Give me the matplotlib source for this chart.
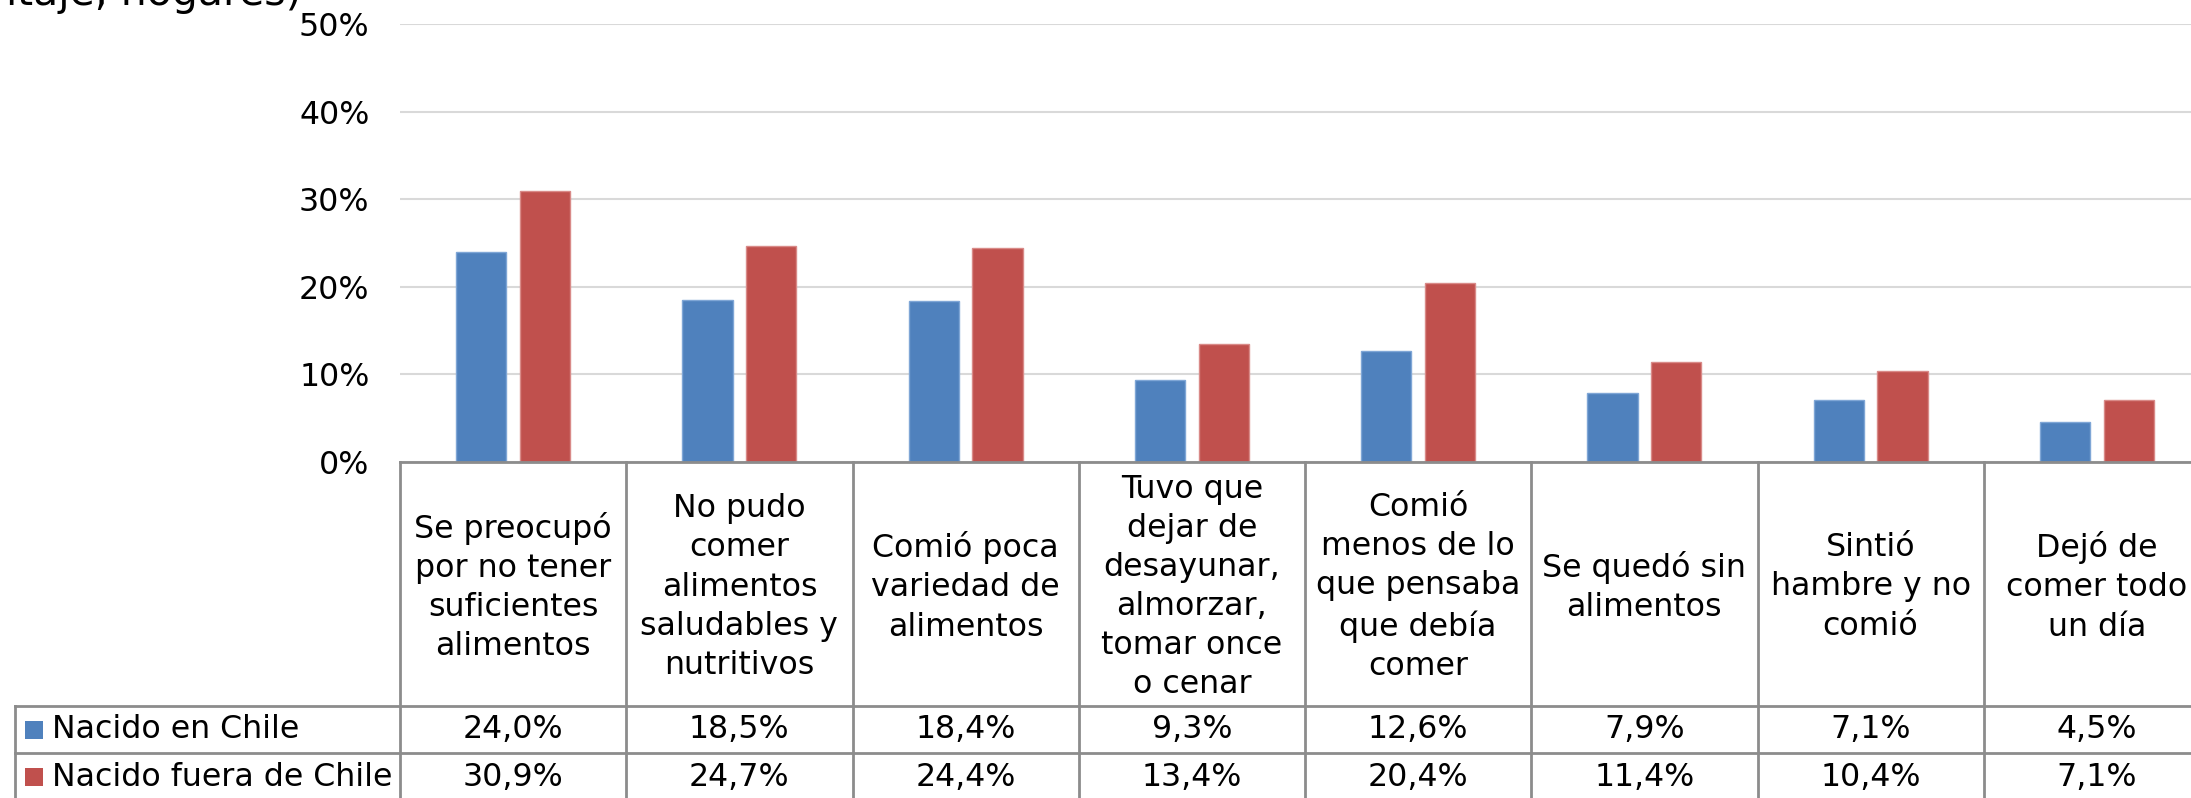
import matplotlib
matplotlib.use("Agg")
import matplotlib.pyplot as plt
from matplotlib.lines import Line2D
from matplotlib.patches import Rectangle
from matplotlib.transforms import blended_transform_factory
import numpy as np

plt.rcParams['font.family'] = ['DejaVu Sans']

categories = [
    "Se preocupó\npor no tener\nsuficientes\nalimentos",
    "No pudo\ncomer\nalimentos\nsaludables y\nnutritivos",
    "Comió poca\nvariedad de\nalimentos",
    "Tuvo que\ndejar de\ndesayunar,\nalmorzar,\ntomar once\no cenar",
    "Comió\nmenos de lo\nque pensaba\nque debía\ncomer",
    "Se quedó sin\nalimentos",
    "Sintió\nhambre y no\ncomió",
    "Dejó de\ncomer todo\nun día",
]
series_names = ["Nacido en Chile", "Nacido fuera de Chile"]
nacido_chile = [24.0, 18.5, 18.4, 9.3, 12.6, 7.9, 7.1, 4.5]
nacido_fuera = [30.9, 24.7, 24.4, 13.4, 20.4, 11.4, 10.4, 7.1]
yticks = [0, 10, 20, 30, 40, 50]
title_text = "(porcentaje, hogares)"

colors = ["#4F81BD", "#C0504D"]
edge_colors = ["#7FA6D6", "#D98A88"]
line_gray = "#8C8C8C"
FS = 22.8

W, H = 2191, 798
fig = plt.figure(figsize=(W / 100, H / 100), dpi=100)
fx = lambda px: px / W
fy = lambda py: 1 - py / H

x0, x1 = 400, 2210
y_top, y_zero = 24.2, 461.7
ax = fig.add_axes([fx(x0), fy(y_zero), fx(x1) - fx(x0), fy(y_top) - fy(y_zero)])

n = len(categories)
x = np.arange(n)
bw = 0.222
off = 0.141
for vals, c, ec, sgn in [(nacido_chile, colors[0], edge_colors[0], -1),
                         (nacido_fuera, colors[1], edge_colors[1], 1)]:
    ax.bar(x + sgn * off, vals, width=bw, color=c, edgecolor=ec, linewidth=1, zorder=3)

ax.set_xlim(-0.5, n - 0.5)
ax.set_ylim(0, 50)
ax.set_yticks(yticks)
ax.set_yticklabels([f"{t}%" for t in yticks], fontsize=FS)
ax.tick_params(axis='y', length=0, pad=22)
ax.set_xticks([])
ax.yaxis.grid(True, color="#D9D9D9", linewidth=1.5, zorder=0)
ax.set_axisbelow(True)
for s in ["top", "right", "left"]:
    ax.spines[s].set_visible(False)
ax.spines["bottom"].set_color(line_gray)
ax.spines["bottom"].set_linewidth(2)
ax.spines["bottom"].set_zorder(5)

# Data table
bt = blended_transform_factory(ax.transData, fig.transFigure)
row1_top, row2_top, bottom = 705.7, 753.3, 800
leg_left = 14.7

def hline(xa, xb, py):
    fig.add_artist(Line2D([fx(xa), fx(xb)], [fy(py), fy(py)], transform=fig.transFigure,
                          color=line_gray, linewidth=2))

for i in range(n + 1):
    fig.add_artist(Line2D([i - 0.5, i - 0.5], [fy(y_zero), fy(bottom)], transform=bt,
                          color=line_gray, linewidth=2, clip_on=False))
hline(leg_left, W + 20, row1_top)
hline(leg_left, W + 20, row2_top)
fig.add_artist(Line2D([fx(leg_left), fx(leg_left)], [fy(row1_top), fy(bottom)],
                      transform=fig.transFigure, color=line_gray, linewidth=2))

hdr_center = 587
for i, cat in enumerate(categories):
    fig.text(i, fy(hdr_center), cat, transform=bt, ha='center', va='center',
             fontsize=FS, linespacing=1.34, multialignment='center')

row_centers = [(row1_top + row2_top) / 2, row2_top + 23.8]
for vals, rc in zip([nacido_chile, nacido_fuera], row_centers):
    for i, v in enumerate(vals):
        fig.text(i, fy(rc), f"{v:.1f}%".replace(".", ","), transform=bt,
                 ha='center', va='center', fontsize=FS)

for name, c, rc in zip(series_names, colors, row_centers):
    fig.add_artist(Rectangle((fx(25), fy(rc + 9)), fx(18), fy(0) - fy(18),
                             transform=fig.transFigure, facecolor=c, edgecolor='none'))
    fig.text(fx(52), fy(rc), name, ha='left', va='center', fontsize=FS)

fig.text(fx(302), fy(5), title_text, ha='right', va='baseline', fontsize=29.5)

fig.savefig("out.png", dpi=100)
